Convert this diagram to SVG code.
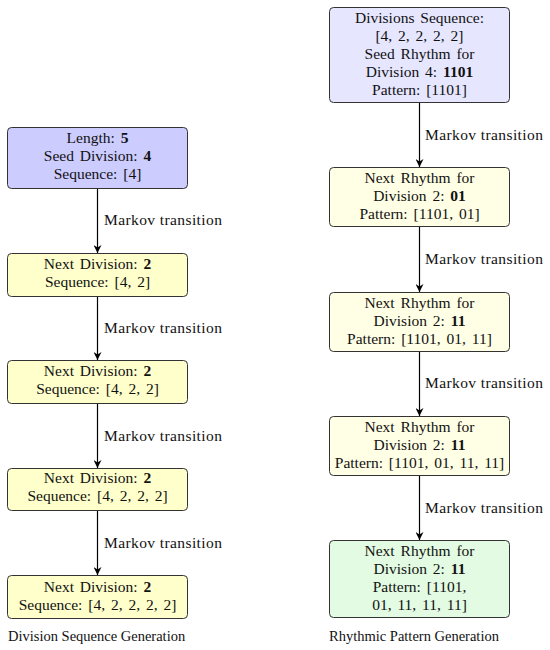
<svg xmlns="http://www.w3.org/2000/svg" width="550" height="650" viewBox="0 0 550 650">
<defs>
<marker id="ah" viewBox="0 0 10 10" refX="10" refY="5" markerWidth="8" markerHeight="8" markerUnits="userSpaceOnUse" orient="auto">
<path d="M0,0 L10,5 L0,10 L3,5 Z" fill="#000"/>
</marker>
<style>
text{font-family:"Liberation Serif","DejaVu Serif",serif;font-size:15.5px;fill:#111}
.c{text-anchor:middle;word-spacing:2px}
.b{font-weight:bold}
.lab{font-size:15.5px;letter-spacing:0.4px}
.cap{font-size:14.5px}
rect{stroke:#333;stroke-width:1}
.blue{fill:#ccccff}
.lblue{fill:#e6e6ff}
.yel{fill:#ffffcc}
.lyel{fill:#ffffe6}
.grn{fill:#e2fbe2}
.edge{stroke:#000;stroke-width:1.2;fill:none;marker-end:url(#ah)}
</style>
</defs>
<g id="connectors">
<line class="edge" x1="97.5" y1="188" x2="97.5" y2="253"/>
<line class="edge" x1="97.5" y1="296" x2="97.5" y2="360"/>
<line class="edge" x1="97.5" y1="403" x2="97.5" y2="468"/>
<line class="edge" x1="97.5" y1="510" x2="97.5" y2="575"/>
<line class="edge" x1="419.5" y1="102" x2="419.5" y2="167"/>
<line class="edge" x1="419.5" y1="226" x2="419.5" y2="292"/>
<line class="edge" x1="419.5" y1="351" x2="419.5" y2="416"/>
<line class="edge" x1="419.5" y1="475" x2="419.5" y2="540"/>
<text class="lab" x="104" y="225">Markov transition</text>
<text class="lab" x="104" y="333">Markov transition</text>
<text class="lab" x="104" y="441">Markov transition</text>
<text class="lab" x="104" y="548">Markov transition</text>
<text class="lab" x="425" y="140">Markov transition</text>
<text class="lab" x="425" y="264">Markov transition</text>
<text class="lab" x="425" y="388">Markov transition</text>
<text class="lab" x="425" y="513">Markov transition</text>
</g>
<g id="L1">
<rect class="blue" x="7.5" y="127.5" width="180" height="61" rx="4"/>
<text class="c" x="97.5" y="143">Length: <tspan class="b">5</tspan></text>
<text class="c" x="97.5" y="161">Seed Division: <tspan class="b">4</tspan></text>
<text class="c" x="97.5" y="179">Sequence: [4]</text>
</g>
<g id="L2">
<rect class="yel" x="7.5" y="253.5" width="180" height="43" rx="4"/>
<text class="c" x="97.5" y="269">Next Division: <tspan class="b">2</tspan></text>
<text class="c" x="97.5" y="287">Sequence: [4, 2]</text>
</g>
<g id="L3">
<rect class="yel" x="7.5" y="360.5" width="180" height="43" rx="4"/>
<text class="c" x="97.5" y="376">Next Division: <tspan class="b">2</tspan></text>
<text class="c" x="97.5" y="394">Sequence: [4, 2, 2]</text>
</g>
<g id="L4">
<rect class="yel" x="7.5" y="468.5" width="180" height="42" rx="4"/>
<text class="c" x="97.5" y="483">Next Division: <tspan class="b">2</tspan></text>
<text class="c" x="97.5" y="501">Sequence: [4, 2, 2, 2]</text>
</g>
<g id="L5">
<rect class="yel" x="7.5" y="575.5" width="180" height="43" rx="4"/>
<text class="c" x="97.5" y="592">Next Division: <tspan class="b">2</tspan></text>
<text class="c" x="97.5" y="610">Sequence: [4, 2, 2, 2, 2]</text>
</g>
<g id="R1">
<rect class="lblue" x="329.5" y="7.5" width="180" height="95" rx="4"/>
<text class="c" x="419.5" y="23">Divisions Sequence:</text>
<text class="c" x="419.5" y="41">[4, 2, 2, 2, 2]</text>
<text class="c" x="419.5" y="59">Seed Rhythm for</text>
<text class="c" x="419.5" y="77">Division 4: <tspan class="b">1101</tspan></text>
<text class="c" x="419.5" y="95">Pattern: [1101]</text>
</g>
<g id="R2">
<rect class="lyel" x="329.5" y="167.5" width="180" height="59" rx="4"/>
<text class="c" x="419.5" y="183">Next Rhythm for</text>
<text class="c" x="419.5" y="201">Division 2: <tspan class="b">01</tspan></text>
<text class="c" x="419.5" y="219">Pattern: [1101, 01]</text>
</g>
<g id="R3">
<rect class="lyel" x="329.5" y="292.5" width="180" height="59" rx="4"/>
<text class="c" x="419.5" y="308">Next Rhythm for</text>
<text class="c" x="419.5" y="326">Division 2: <tspan class="b">11</tspan></text>
<text class="c" x="419.5" y="344">Pattern: [1101, 01, 11]</text>
</g>
<g id="R4">
<rect class="lyel" x="329.5" y="416.5" width="180" height="59" rx="4"/>
<text class="c" x="419.5" y="432">Next Rhythm for</text>
<text class="c" x="419.5" y="450">Division 2: <tspan class="b">11</tspan></text>
<text class="c" x="419.5" y="468">Pattern: [1101, 01, 11, 11]</text>
</g>
<g id="R5">
<rect class="grn" x="329.5" y="540.5" width="180" height="77" rx="4"/>
<text class="c" x="419.5" y="556">Next Rhythm for</text>
<text class="c" x="419.5" y="574">Division 2: <tspan class="b">11</tspan></text>
<text class="c" x="419.5" y="592">Pattern: [1101,</text>
<text class="c" x="419.5" y="610">01, 11, 11, 11]</text>
</g>
<text class="cap" x="8" y="641">Division Sequence Generation</text>
<text class="cap" x="329" y="641">Rhythmic Pattern Generation</text>
</svg>
